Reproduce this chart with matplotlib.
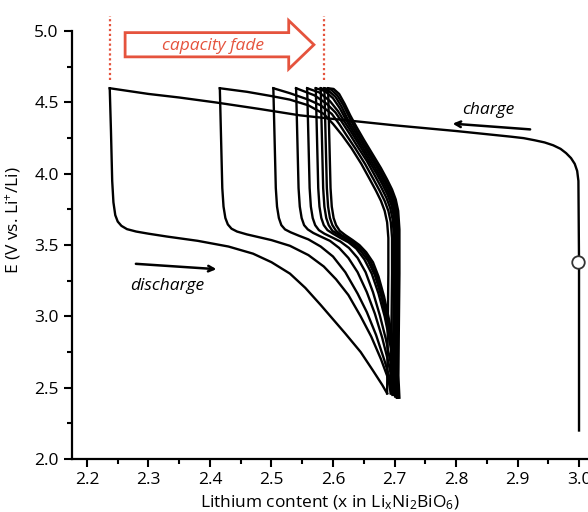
import matplotlib
matplotlib.use("Agg")
import matplotlib.pyplot as plt
from matplotlib.patches import FancyArrow
from matplotlib.ticker import MultipleLocator

plt.rcParams['font.family'] = ['Open Sans', 'DejaVu Sans']
plt.rcParams['mathtext.default'] = 'regular'

# first charge from the pristine material (x = 3.0)
first_charge_x = [3.000, 3.000, 2.999, 2.997, 2.993, 2.987, 2.979, 2.970, 2.958, 2.944,
                  2.928, 2.91, 2.89, 2.80, 2.70, 2.60, 2.546, 2.48, 2.41, 2.35, 2.30, 2.237]
first_charge_e = [2.20, 3.38, 3.95, 4.02, 4.07, 4.11, 4.145, 4.175, 4.20, 4.22,
                  4.235, 4.25, 4.26, 4.30, 4.34, 4.385, 4.41, 4.455, 4.50, 4.535, 4.56, 4.60]
ocv_point = (2.999, 3.38)

# discharge branches, one per cycle
discharge_x = [
    [2.237, 2.239, 2.241, 2.243, 2.246, 2.250, 2.256, 2.265, 2.28, 2.30, 2.33, 2.38, 2.43,
     2.47, 2.50, 2.53, 2.555, 2.58, 2.60, 2.62, 2.645, 2.665, 2.68, 2.688],
    [2.416, 2.418, 2.420, 2.422, 2.425, 2.429, 2.435, 2.444, 2.46, 2.48, 2.50, 2.53, 2.56,
     2.585, 2.605, 2.625, 2.645, 2.662, 2.678, 2.69, 2.694],
    [2.503, 2.505, 2.507, 2.509, 2.512, 2.516, 2.522, 2.531, 2.545, 2.56, 2.58, 2.60, 2.62,
     2.64, 2.655, 2.67, 2.683, 2.692, 2.697],
    [2.540, 2.542, 2.544, 2.546, 2.549, 2.553, 2.559, 2.568, 2.58, 2.595, 2.61, 2.625, 2.64,
     2.655, 2.668, 2.68, 2.69, 2.696, 2.699],
    [2.558, 2.560, 2.562, 2.564, 2.567, 2.571, 2.577, 2.586, 2.598, 2.612, 2.626, 2.64,
     2.653, 2.665, 2.676, 2.686, 2.694, 2.699, 2.701],
    [2.572, 2.574, 2.576, 2.578, 2.581, 2.585, 2.591, 2.600, 2.612, 2.625, 2.638, 2.651,
     2.663, 2.674, 2.684, 2.692, 2.698, 2.702, 2.703],
    [2.580, 2.582, 2.584, 2.586, 2.589, 2.593, 2.599, 2.608, 2.620, 2.632, 2.645, 2.657,
     2.668, 2.678, 2.687, 2.694, 2.700, 2.703, 2.704],
    [2.586, 2.588, 2.590, 2.592, 2.595, 2.599, 2.605, 2.614, 2.626, 2.638, 2.650, 2.661,
     2.671, 2.680, 2.689, 2.696, 2.702, 2.705, 2.706],
    [2.592, 2.594, 2.596, 2.598, 2.601, 2.605, 2.611, 2.620, 2.632, 2.643, 2.654, 2.665,
     2.674, 2.683, 2.691, 2.698, 2.704, 2.707, 2.708],
]
discharge_e = [
    [4.60, 4.30, 3.95, 3.80, 3.71, 3.665, 3.635, 3.612, 3.595, 3.58, 3.56, 3.53, 3.49,
     3.44, 3.38, 3.30, 3.20, 3.08, 2.98, 2.88, 2.75, 2.62, 2.52, 2.46],
    [4.60, 4.25, 3.90, 3.77, 3.69, 3.645, 3.615, 3.595, 3.575, 3.555, 3.535, 3.495, 3.43,
     3.35, 3.26, 3.15, 3.00, 2.86, 2.70, 2.56, 2.46],
    [4.60, 4.25, 3.90, 3.77, 3.69, 3.64, 3.61, 3.59, 3.565, 3.54, 3.49, 3.42, 3.31,
     3.16, 3.03, 2.87, 2.70, 2.57, 2.45],
    [4.60, 4.25, 3.90, 3.77, 3.69, 3.64, 3.61, 3.585, 3.56, 3.53, 3.48, 3.41, 3.31,
     3.17, 3.02, 2.85, 2.68, 2.55, 2.45],
    [4.60, 4.25, 3.90, 3.77, 3.69, 3.64, 3.605, 3.58, 3.555, 3.525, 3.48, 3.41, 3.31,
     3.17, 3.01, 2.84, 2.67, 2.54, 2.44],
    [4.60, 4.25, 3.90, 3.77, 3.69, 3.64, 3.605, 3.58, 3.55, 3.52, 3.475, 3.40, 3.30,
     3.16, 3.00, 2.83, 2.66, 2.54, 2.44],
    [4.60, 4.25, 3.90, 3.77, 3.69, 3.64, 3.60, 3.575, 3.545, 3.51, 3.46, 3.39, 3.29,
     3.15, 2.99, 2.82, 2.65, 2.53, 2.43],
    [4.60, 4.25, 3.90, 3.77, 3.69, 3.64, 3.60, 3.57, 3.54, 3.505, 3.455, 3.385, 3.285,
     3.145, 2.985, 2.815, 2.645, 2.525, 2.43],
    [4.60, 4.25, 3.90, 3.77, 3.69, 3.64, 3.60, 3.57, 3.535, 3.50, 3.45, 3.38, 3.28,
     3.14, 2.98, 2.81, 2.64, 2.52, 2.43],
]

# charge branches of cycles 2..9
charge_x = [
    [2.688, 2.689, 2.690, 2.690, 2.688, 2.684, 2.678, 2.670, 2.660, 2.646, 2.630, 2.615,
     2.600, 2.585, 2.56, 2.53, 2.50, 2.46, 2.416],
    [2.694, 2.695, 2.696, 2.696, 2.694, 2.690, 2.684, 2.676, 2.666, 2.652, 2.636, 2.622,
     2.610, 2.598, 2.58, 2.56, 2.53, 2.503],
    [2.697, 2.698, 2.699, 2.699, 2.697, 2.693, 2.687, 2.679, 2.669, 2.655, 2.640, 2.627,
     2.615, 2.604, 2.59, 2.57, 2.54],
    [2.699, 2.700, 2.701, 2.701, 2.699, 2.695, 2.689, 2.681, 2.671, 2.657, 2.643, 2.630,
     2.618, 2.608, 2.595, 2.578, 2.558],
    [2.701, 2.702, 2.703, 2.703, 2.701, 2.697, 2.691, 2.683, 2.673, 2.659, 2.645, 2.632,
     2.621, 2.611, 2.600, 2.587, 2.572],
    [2.703, 2.704, 2.705, 2.705, 2.703, 2.699, 2.693, 2.685, 2.675, 2.661, 2.647, 2.634,
     2.623, 2.614, 2.604, 2.592, 2.580],
    [2.704, 2.705, 2.706, 2.706, 2.704, 2.700, 2.694, 2.686, 2.676, 2.662, 2.648, 2.636,
     2.626, 2.617, 2.607, 2.597, 2.586],
    [2.706, 2.707, 2.708, 2.708, 2.706, 2.702, 2.696, 2.688, 2.678, 2.664, 2.650, 2.638,
     2.628, 2.619, 2.610, 2.601, 2.592],
]
charge_e = [
    [2.46, 2.9, 3.3, 3.55, 3.66, 3.74, 3.81, 3.88, 3.96, 4.07, 4.18, 4.27, 4.35, 4.42,
     4.48, 4.52, 4.545, 4.575, 4.60],
    [2.46, 2.9, 3.3, 3.55, 3.66, 3.74, 3.81, 3.88, 3.96, 4.07, 4.18, 4.27, 4.35, 4.42,
     4.48, 4.52, 4.565, 4.60],
    [2.45, 2.9, 3.3, 3.56, 3.68, 3.76, 3.83, 3.90, 3.98, 4.09, 4.19, 4.28, 4.36, 4.43,
     4.49, 4.55, 4.60],
    [2.45, 2.9, 3.3, 3.57, 3.70, 3.78, 3.85, 3.92, 4.00, 4.10, 4.20, 4.29, 4.37, 4.44,
     4.51, 4.57, 4.60],
    [2.44, 2.9, 3.3, 3.58, 3.71, 3.79, 3.86, 3.93, 4.01, 4.11, 4.21, 4.30, 4.38, 4.46,
     4.53, 4.58, 4.60],
    [2.44, 2.9, 3.3, 3.59, 3.72, 3.80, 3.87, 3.94, 4.02, 4.12, 4.22, 4.31, 4.39, 4.47,
     4.54, 4.585, 4.60],
    [2.43, 2.9, 3.3, 3.60, 3.73, 3.81, 3.88, 3.95, 4.03, 4.13, 4.23, 4.32, 4.40, 4.48,
     4.55, 4.59, 4.60],
    [2.43, 2.9, 3.3, 3.61, 3.74, 3.82, 3.89, 3.96, 4.04, 4.14, 4.24, 4.33, 4.41, 4.49,
     4.56, 4.595, 4.60],
]

# end of charge for the first and last cycle
fade_limits = [2.237, 2.585]

red = '#e5533d'
fs = 12.5

fig = plt.figure(figsize=(5.88, 5.12), dpi=100)
ax = fig.add_axes([0.1224, 0.1035, 0.8776, 0.869])

lw = 1.7
ax.plot(first_charge_x, first_charge_e, color='black', lw=lw, solid_joinstyle='round')
for xs, es in zip(discharge_x, discharge_e):
    ax.plot(xs, es, color='black', lw=lw, solid_joinstyle='round')
for xs, es in zip(charge_x, charge_e):
    ax.plot(xs, es, color='black', lw=lw, solid_joinstyle='round')
ax.plot(*ocv_point, marker='o', ms=9, mfc='white', mec='#333333', mew=1.3, zorder=5)

# capacity fade markers
for xf in fade_limits:
    ax.plot([xf, xf], [4.66, 5.11], color=red, ls=(0, (1, 1.2)), lw=1.6, clip_on=False)
ax.add_patch(FancyArrow(2.262, 4.905, 0.266, 0, width=0.17, head_width=0.34,
                        head_length=0.041, length_includes_head=False,
                        fill=False, edgecolor=red, lw=2.0, clip_on=False))
ax.text(2.405, 4.895, 'capacity fade', color=red, style='italic', fontsize=fs,
        fontweight='medium', ha='center', va='center')

ax.annotate('', xy=(2.79, 4.353), xytext=(2.925, 4.31),
            arrowprops=dict(arrowstyle='->', color='black', lw=1.8))
ax.text(2.852, 4.45, 'charge', style='italic', fontsize=fs, fontweight='medium',
        ha='center', va='center')
ax.annotate('', xy=(2.415, 3.33), xytext=(2.275, 3.37),
            arrowprops=dict(arrowstyle='->', color='black', lw=1.8))
ax.text(2.33, 3.21, 'discharge', style='italic', fontsize=fs, fontweight='medium',
        ha='center', va='center')

ax.set_xlim(2.1756, 3.0146)
ax.set_ylim(2.0, 5.12)
ax.spines['left'].set_bounds(2.0, 5.0)
ax.spines['top'].set_visible(False)
ax.spines['right'].set_visible(False)
for s in ('left', 'bottom'):
    ax.spines[s].set_linewidth(1.6)

ax.set_xticks([2.2, 2.3, 2.4, 2.5, 2.6, 2.7, 2.8, 2.9, 3.0])
ax.set_yticks([2.0, 2.5, 3.0, 3.5, 4.0, 4.5, 5.0])
ax.xaxis.set_minor_locator(MultipleLocator(0.05))
ax.yaxis.set_minor_locator(MultipleLocator(0.25))
ax.tick_params(which='major', direction='out', length=6, width=1.5, labelsize=fs)
ax.tick_params(which='minor', direction='out', length=3.5, width=1.5)
ax.set_xticklabels(['2.2', '2.3', '2.4', '2.5', '2.6', '2.7', '2.8', '2.9', '3.0'],
                   fontweight='medium')
ax.set_yticklabels(['2.0', '2.5', '3.0', '3.5', '4.0', '4.5', '5.0'],
                   fontweight='medium')

ax.set_xlabel(r'Lithium content (x in Li$_x$Ni$_2$BiO$_6$)', fontsize=fs,
              fontweight='medium', labelpad=4)
ax.set_ylabel(r'E (V vs. Li$^{+}$/Li)', fontsize=fs, fontweight='medium')
ax.yaxis.set_label_coords(-0.095, 0.537)

fig.savefig('out.png', dpi=100)
